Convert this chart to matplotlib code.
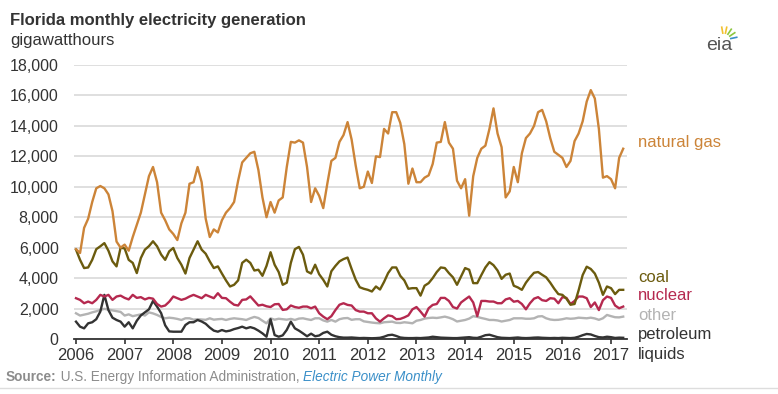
import numpy as np
import matplotlib
matplotlib.use("Agg")
import matplotlib.pyplot as plt
from matplotlib.lines import Line2D

plt.rcParams['font.family'] = ['Liberation Sans', 'DejaVu Sans']

# monthly generation, gigawatthours, Jan 2006 - Apr 2017
natural_gas = [
    5900, 5650, 7300, 7900, 9000, 9900, 10050, 9900, 9500, 8400, 6400, 6000,
    6200, 5800, 6700, 7500, 8300, 9500, 10700, 11300, 10300, 8300, 7800, 7200,
    6900, 6500, 7600, 8300, 10200, 10300, 11300, 10300, 7900, 6700, 7200, 7000,
    7800, 8300, 8600, 9000, 10400, 11600, 11900, 12200, 12300, 11100, 9300, 8000,
    9000, 8300, 9100, 9300, 11300, 12950, 12900, 13050, 12900, 11300, 9000, 9900,
    9400, 8600, 10200, 11700, 11900, 12950, 13400, 14250, 13100, 11400, 9900, 10000,
    11000, 10250, 12000, 11950, 13800, 13500, 14900, 14900, 14200, 12800, 10200, 11200,
    10300, 10300, 10600, 10750, 11500, 12900, 12950, 14250, 12900, 12500, 10400, 9900,
    10500, 8100, 10700, 11900, 12500, 12700, 13800, 15150, 13500, 12600, 9300, 9700,
    11300, 10300, 12200, 13200, 13500, 14000, 14900, 15050, 14300, 13200, 12300, 12100,
    11900, 11300, 11700, 13000, 13500, 14300, 15600, 16350, 15800, 13800, 10600, 10700,
    10500, 9900, 11900, 12500,
]
coal = [
    5870, 5200, 4660, 4700, 5200, 5900, 6090, 6300, 5800, 5100, 4770, 6000,
    5950, 5200, 5000, 4330, 5320, 5870, 6100, 6420, 6090, 5550, 5200, 5760,
    5980, 5320, 4880, 4300, 5320, 5870, 6420, 5870, 5600, 5100, 4660, 4770,
    4300, 3850, 3450, 3560, 3850, 5000, 5210, 5000, 4500, 4550, 4150, 4800,
    5700, 4880, 4400, 3560, 3700, 5000, 5900, 6050, 5540, 4440, 4300, 4880,
    4250, 3890, 3450, 4450, 4800, 5100, 5250, 5350, 4600, 3900, 3400, 3300,
    3230, 3120, 3450, 3250, 3750, 4330, 4700, 4700, 4150, 3850, 3300, 3340,
    3340, 2850, 3500, 3670, 4000, 4400, 4700, 4660, 4330, 4050, 3560, 4110,
    4660, 4550, 3670, 3670, 4200, 4700, 5050, 4850, 4500, 3950, 4220, 4300,
    3500, 3390, 3230, 3700, 4050, 4350, 4400, 4220, 4050, 3700, 3300, 2950,
    2900, 2650, 2250, 2300, 3200, 4200, 4750, 4600, 4300, 3700, 2900, 3450,
    3340, 2950, 3230, 3230,
]
nuclear = [
    2680, 2570, 2350, 2460, 2350, 2570, 2900, 2790, 2900, 2570, 2790, 2850,
    2700, 2600, 2900, 2700, 2750, 2600, 2700, 2650, 2300, 2130, 2200, 2450,
    2790, 2680, 2570, 2650, 2790, 2900, 2790, 2680, 2900, 2790, 2680, 3010,
    2700, 2680, 2450, 2250, 2200, 2570, 2600, 2800, 2500, 2200, 2250, 2150,
    2100, 2280, 2300, 1910, 1950, 2200, 2100, 2050, 2130, 2130, 2020, 2130,
    1690, 1470, 1300, 1500, 1900, 2250, 2350, 2240, 2200, 1900, 1800, 1800,
    1690, 1690, 1350, 1140, 1360, 1550, 1500, 1300, 1320, 1420, 1550, 1950,
    2100, 1800, 1470, 2020, 2240, 2300, 2700, 2700, 2500, 2100, 2000, 2400,
    2600, 2790, 2400, 1500, 2500, 2500, 2460, 2460, 2350, 2350, 2600, 2680,
    2450, 2500, 2300, 1950, 2350, 2650, 2750, 2550, 2500, 2680, 2650, 2350,
    2750, 2700, 2300, 2500, 2790, 2790, 2680, 2100, 2400, 1900, 2550, 2790,
    2700, 2200, 2020, 2130,
]
other = [
    1690, 1540, 1600, 1660, 1750, 1820, 1910, 1980, 1930, 1880, 1830, 1780,
    1540, 1620, 1500, 1560, 1620, 1540, 1750, 1680, 1580, 1450, 1360, 1400,
    1370, 1320, 1250, 1360, 1360, 1270, 1300, 1280, 1260, 1360, 1270, 1300,
    1320, 1250, 1320, 1360, 1330, 1300, 1250, 1360, 1450, 1380, 1200, 1030,
    1360, 1270, 1330, 1300, 1270, 1320, 1250, 1340, 1360, 1300, 1250, 1360,
    1360, 1220, 1140, 1250, 1140, 1300, 1360, 1380, 1260, 1300, 1300, 1160,
    1120, 1080, 1050, 1030, 1100, 1120, 1140, 1060, 1050, 1100, 1070, 1030,
    1200, 1250, 1340, 1380, 1400, 1380, 1420, 1470, 1400, 1300, 1150, 1200,
    1250, 1340, 1500, 1450, 1380, 1320, 1250, 1250, 1220, 1150, 1200, 1250,
    1360, 1360, 1360, 1330, 1330, 1360, 1480, 1500, 1360, 1280, 1250, 1260,
    1300, 1360, 1330, 1350, 1400, 1380, 1360, 1400, 1350, 1260, 1360, 1580,
    1500, 1430, 1420, 1470,
]
petroleum = [
    1140, 810, 700, 1030, 1100, 1300, 1800, 2900, 1900, 1400, 1250, 1140,
    810, 1100, 700, 1200, 1550, 1750, 1950, 2500, 2130, 1700, 900, 500,
    480, 480, 480, 920, 1100, 1100, 1250, 1150, 1000, 750, 550, 480,
    590, 500, 550, 650, 720, 810, 700, 780, 700, 550, 370, 150,
    1300, 260, 150, 240, 600, 1140, 700, 550, 370, 180, 350, 180,
    230, 400, 480, 280, 180, 120, 90, 90, 100, 80, 60, 70,
    60, 50, 60, 80, 150, 250, 280, 200, 100, 70, 60, 60,
    70, 60, 80, 100, 150, 120, 90, 80, 70, 60, 60, 80,
    100, 120, 80, 70, 150, 250, 280, 200, 120, 80, 70, 60,
    80, 100, 70, 60, 70, 90, 100, 80, 70, 60, 70, 60,
    80, 70, 60, 80, 150, 250, 330, 300, 200, 120, 100, 150,
    120, 70, 90, 80,
]
years = list(range(2006, 2018))
y_ticks = list(range(0, 18001, 2000))

months = 2006 + np.arange(len(natural_gas)) / 12

W, H = 778, 394
fig = plt.figure(figsize=(W / 100, H / 100), dpi=100)
ax = fig.add_axes([74 / W, 1 - 339 / H, (627 - 74) / W, (339 - 65) / H])

ax.plot(months, other, color='#b3b3b3', lw=1.7, clip_on=False)
ax.plot(months, petroleum, color='#333333', lw=1.7, clip_on=False)
ax.plot(months, nuclear, color='#b5294f', lw=1.7)
ax.plot(months, coal, color='#6b5b0e', lw=1.7)
ax.plot(months, natural_gas, color='#cc8438', lw=1.7)

ax.set_xlim(2006 - 2 / 48.64, 2006 + (627 - 76) / 48.64)
ax.set_ylim(0, 18000)
ax.set_yticks(y_ticks)
ax.set_yticklabels([f"{v:,}" for v in y_ticks])
ax.set_xticks(years)
ax.set_xticklabels([str(y) for y in years])
ax.yaxis.grid(True, color='#d9d9d9', lw=1.2)
ax.set_axisbelow(True)
for s in ['top', 'right', 'left']:
    ax.spines[s].set_visible(False)
ax.spines['bottom'].set_color('#333333')
ax.spines['bottom'].set_linewidth(1.3)
ax.tick_params(axis='y', length=0, pad=11, labelsize=11.5, labelcolor='#333333')
ax.tick_params(axis='x', length=3.5, width=1.2, color='#333333', pad=3,
               labelsize=12, labelcolor='#333333')

# titles
fig.text(10 / W, 1 - 20 / H, "Florida monthly electricity generation",
         fontsize=12, fontweight='bold', color='#333333', va='center')
fig.text(10 / W, 1 - 40 / H, "gigawatthours", fontsize=12, color='#333333',
         va='center')

# series labels
lx = 638 / W
fig.text(lx, 1 - 143 / H, "natural gas", color='#cc8438', fontsize=12, va='center')
fig.text(lx, 1 - 277 / H, "coal", color='#6b5b0e', fontsize=12, va='center')
fig.text(lx, 1 - 296 / H, "nuclear", color='#b5294f', fontsize=12, va='center')
fig.text(lx, 1 - 316 / H, "other", color='#b3b3b3', fontsize=12, va='center')
fig.text(lx, 1 - 335 / H, "petroleum", color='#333333', fontsize=12, va='center')
fig.text(lx, 1 - 354 / H, "liquids", color='#333333', fontsize=12, va='center')

# eia logo
fig.text(706 / W, 1 - 45 / H, "eia", fontsize=14, color='#555555', va='center')
ray_colors = ['#f2c12e', '#f2c12e', '#8cc63f', '#8cc63f', '#3a8fc8']
for i, c in enumerate(ray_colors):
    ang = np.deg2rad(100 - i * 22)
    x0, y0 = 724, 40
    fig.add_artist(Line2D([(x0 + 7 * np.cos(ang)) / W, (x0 + 13 * np.cos(ang)) / W],
                          [1 - (y0 - 7 * np.sin(ang)) / H, 1 - (y0 - 13 * np.sin(ang)) / H],
                          color=c, lw=1.2))

# source line
t1 = fig.text(6 / W, 1 - 377 / H, "Source:", fontsize=9.8, fontweight='bold',
              color='#8c8c8c', va='center')
a2 = ax.annotate(" U.S. Energy Information Administration, ", xy=(1, 0.5),
                 xycoords=t1, va='center', fontsize=9.8, color='#8c8c8c',
                 annotation_clip=False)
ax.annotate("Electric Power Monthly", xy=(1, 0.5), xycoords=a2, va='center',
            fontsize=9.8, color='#3a8fc8', style='italic', annotation_clip=False)
fig.add_artist(Line2D([0, 1], [1 - 388 / H, 1 - 388 / H], color='#dddddd', lw=1))

fig.savefig("out.png", dpi=100)
